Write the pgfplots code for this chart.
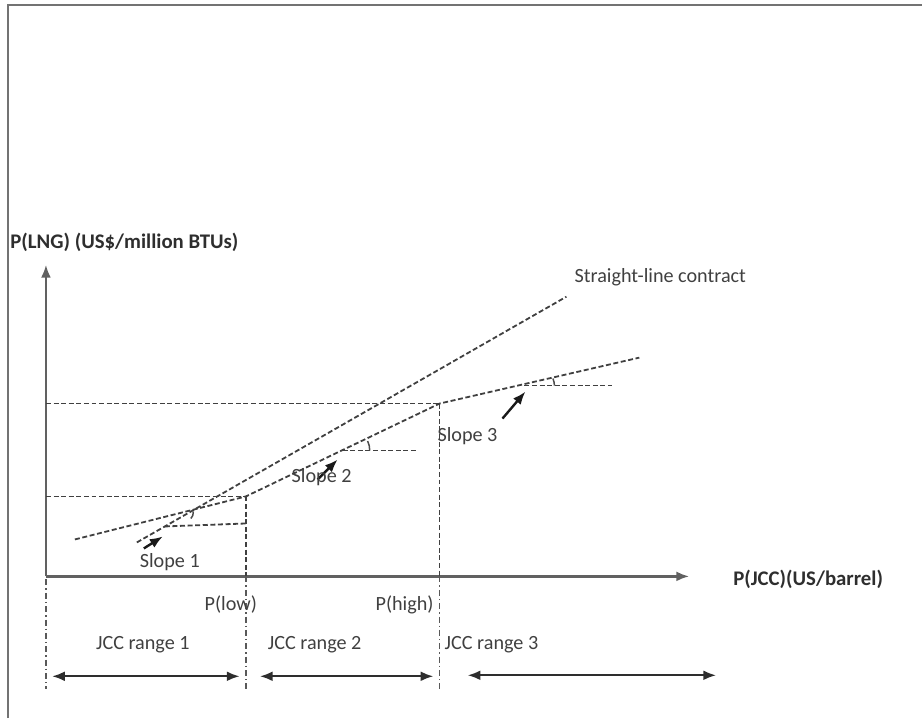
\documentclass[border=0pt]{standalone}
\usepackage{pgfplots}
\pgfplotsset{compat=1.18}
\usepackage{fontspec}
\setmainfont{Carlito}
\usetikzlibrary{arrows.meta}
\begin{document}
\begin{tikzpicture}[
  dsh/.style={black!75, line width=0.9pt, dash pattern=on 2.5pt off 1.3pt},
  ddot/.style={black!65, line width=0.85pt, dash pattern=on 3pt off 1.5pt on 0.7pt off 1.5pt},
  ax/.style={black!62, line width=1.2pt},
  arr/.style={black!90, line width=1.2pt, -{Latex[length=6.5pt,width=5pt]}},
  darr/.style={black!82, line width=1.2pt, {Latex[length=6.5pt,width=5pt]}-{Latex[length=6.5pt,width=5pt]}},
  lbl/.style={font=\fontsize{10.1}{12}\selectfont, text=black!75, inner sep=0pt},
  blbl/.style={font=\fontsize{10.4}{12}\selectfont\bfseries, text=black!82, inner sep=0pt},
]
\begin{axis}[
  scale only axis, width=461.5pt, height=359.5pt,
  xmin=0, xmax=923, ymin=0, ymax=719, y dir=reverse,
  hide axis, clip=false,
]
% frame
\addplot[draw=none, forget plot] coordinates {(0,0) (923,719)};
\addplot[black!55, line width=1pt] coordinates {(8,719) (8,5) (923,5)};
% axes
\addplot[ax, -{Latex[length=6.5pt,width=5pt]}] coordinates {(46,577) (46,265)};
\addplot[ax, -{Latex[length=6.5pt,width=5pt]}] coordinates {(46,577) (690,577)};
% straight-line contract
\addplot[dsh] coordinates {(137,543) (567,297)};
% piecewise contract
\addplot[dsh] coordinates {(75,540) (246,497) (440,404) (640,358)};
% level lines
\addplot[dsh] coordinates {(46,497) (246,497)};
\addplot[dsh] coordinates {(46,404) (440,404)};
\addplot[dsh] coordinates {(246,497) (246,577)};
\addplot[dsh] coordinates {(440,404) (440,577)};
% below-axis dash-dot verticals
\addplot[ddot] coordinates {(46,580) (46,690)};
\addplot[ddot] coordinates {(246,577) (246,690)};
\addplot[ddot] coordinates {(440,577) (440,690)};
% slope horizontals
\addplot[dsh] coordinates {(165,527) (247,524)};
\addplot[dsh] coordinates {(343,451) (418,451)};
\addplot[dsh] coordinates {(525,386) (613,386)};
% small angle arcs
\addplot[black!70, line width=0.75pt, smooth] coordinates {(191,519) (193,516) (193.5,512)};
\addplot[black!70, line width=0.75pt, smooth] coordinates {(368,441.5) (369.6,446) (370,451)};
\addplot[black!70, line width=0.75pt, smooth] coordinates {(553.5,379) (554.6,382.5) (555,386)};
% slope arrows
\addplot[arr] coordinates {(144,549) (163,537)};
\addplot[arr] coordinates {(318,480) (338,460)};
\addplot[arr] coordinates {(503,419) (526,392)};
% range arrows
\addplot[darr] coordinates {(52,677) (240,677)};
\addplot[darr] coordinates {(260,677) (434,677)};
\addplot[darr] coordinates {(468,676) (717,676)};
% labels
\node[blbl, anchor=west] at (axis cs:10,243) {P(LNG) (US\$/million BTUs)};
\node[lbl] at (axis cs:661,278) {Straight-line contract};
\node[lbl] at (axis cs:170,563) {Slope 1};
\node[lbl] at (axis cs:322,478) {Slope 2};
\node[lbl] at (axis cs:468,437) {Slope 3};
\node[blbl] at (axis cs:809,580) {P(JCC)(US/barrel)};
\node[lbl] at (axis cs:231,605) {P(low)};
\node[lbl] at (axis cs:405,605) {P(high)};
\node[lbl] at (axis cs:143,645) {JCC range 1};
\node[lbl] at (axis cs:315,645) {JCC range 2};
\node[lbl] at (axis cs:492,645) {JCC range 3};
\end{axis}
\end{tikzpicture}
\end{document}
